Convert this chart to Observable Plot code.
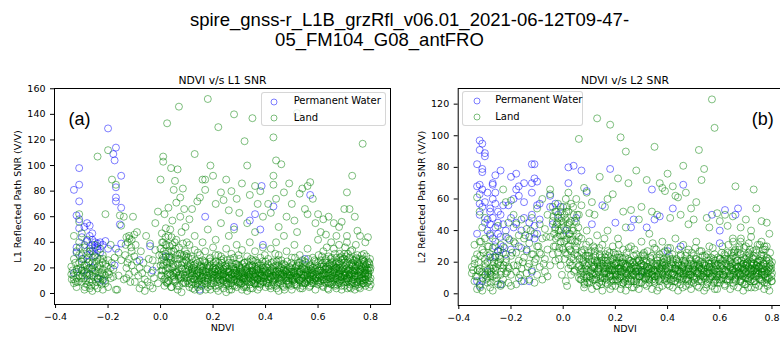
<!DOCTYPE html>
<html>
<head>
<meta charset="utf-8">
<script src="https://cdn.jsdelivr.net/npm/d3@7"></script>
<script src="https://cdn.jsdelivr.net/npm/@observablehq/plot@0.6"></script>
<style>
  body { margin: 0; background: white; }
  #fig { position: relative; width: 780px; height: 337px; overflow: hidden; background: white; font-family: "DejaVu Sans", sans-serif; }
  .title { position: absolute; font-family: "Liberation Sans", Arial, sans-serif; font-size: 18.5px; line-height: 22px; text-align: center; color: black; white-space: nowrap; z-index: 5; }
  .panel { position: absolute; top: 0; }
  .legend { position: absolute; box-sizing: border-box; border: 1px solid rgba(204,204,204,0.8); border-radius: 3px; background: rgba(255,255,255,0.8); z-index: 4; font-size: 10px; }
  .legend .row { position: absolute; white-space: nowrap; }
</style>
</head>
<body>
<div id="fig"></div>
<script>
// ---------- data (NDVI, SNR) ----------
const ndviTicks = [-0.4, -0.2, 0.0, 0.2, 0.4, 0.6, 0.8];
const l1Ticks = [0, 20, 40, 60, 80, 100, 120, 140, 160];
const l2Ticks = [0, 20, 40, 60, 80, 100, 120];
const seriesNames = ["Permanent Water", "Land"];
const titleLines = ["spire_gnss-r_L1B_grzRfl_v06.01_2021-06-12T09-47-", "05_FM104_G08_antFRO"];

const waterL1 = [[-0.33,81],[-0.31,98],[-0.31,85],[-0.31,72],[-0.32,61],[-0.31,58],[-0.31,51],[-0.32,36],[-0.33,16],[-0.32,32],[-0.30,44],[-0.30,27],[-0.29,52],[-0.29,38],[-0.28,55],[-0.28,41],[-0.28,30],[-0.27,53],[-0.27,45],[-0.27,35],[-0.27,25],[-0.26,47],[-0.26,38],[-0.26,33],[-0.26,42],[-0.25,36],[-0.25,40],[-0.25,30],[-0.24,39],[-0.24,34],[-0.24,37],[-0.23,40],[-0.23,32],[-0.22,38],[-0.21,41],[-0.20,35],[-0.28,14],[-0.26,20],[-0.24,12],[-0.30,18],[-0.22,10],[-0.20,129],[-0.18,109],[-0.175,104],[-0.17,114],[-0.17,83],[-0.17,75],[-0.17,72],[-0.15,92],[-0.15,67],[-0.155,54],[-0.15,39],[-0.17,35],[-0.175,22],[-0.04,37],[-0.03,18],[0.15,3],[0.17,60],[0.28,52],[0.34,57],[0.36,62],[0.38,50],[0.385,84],[0.43,68],[0.39,38],[0.57,77],[0.55,27],[-0.08,26],[0.02,29]];

const landL1 = [
[-0.34,21],[-0.34,15],[-0.33,8],[-0.33,27],[-0.33,45],[-0.32,12],[-0.32,19],[-0.32,33],[-0.32,5],[-0.31,24],[-0.31,40],[-0.31,56],[-0.31,62],[-0.31,14],[-0.30,9],[-0.30,30],[-0.30,18],[-0.30,47],[-0.29,3],[-0.29,22],[-0.29,12],[-0.29,36],[-0.28,7],[-0.28,16],[-0.28,27],[-0.28,42],[-0.27,4],[-0.27,11],[-0.27,20],[-0.27,31],[-0.26,2],[-0.26,14],[-0.26,24],[-0.26,9],[-0.25,18],[-0.25,6],[-0.25,29],[-0.25,38],[-0.24,12],[-0.24,21],[-0.24,4],[-0.24,107],[-0.23,16],[-0.23,27],[-0.23,9],[-0.23,35],[-0.22,19],[-0.22,11],[-0.22,3],[-0.22,30],[-0.21,62],[-0.21,14],[-0.21,23],[-0.21,8],[-0.20,112],[-0.20,17],[-0.20,5],[-0.20,26],[-0.19,12],[-0.19,20],[-0.19,38],[-0.33,11],[-0.30,25],[-0.28,33],[-0.26,17],[-0.24,28],[-0.22,24],[-0.27,15],[-0.29,18],[-0.31,30],
[-0.185,89],[-0.18,13],[-0.18,19],[-0.175,28],[-0.17,3],[-0.17,85],[-0.165,3],[-0.16,32],[-0.16,14],[-0.155,61],[-0.15,53],[-0.15,26],[-0.14,60],[-0.14,11],[-0.135,30],[-0.13,44],[-0.13,20],[-0.13,12],[-0.125,40],[-0.12,45],[-0.12,27],[-0.12,15],[-0.115,9],[-0.11,42],[-0.11,33],[-0.11,22],[-0.105,60],[-0.10,46],[-0.10,29],[-0.10,17],[-0.095,38],[-0.09,25],[-0.09,48],[-0.085,14],[-0.08,4],[-0.08,20],[-0.075,33],[-0.07,16],[-0.07,7],[-0.065,24],[-0.06,11],[-0.06,2],[-0.055,45],[-0.05,19],[-0.05,9],[-0.045,27],[-0.04,6],[-0.04,39],[-0.035,16],[-0.03,4],[-0.03,26],[-0.025,12],[-0.02,55],[-0.02,34],[-0.015,21],[-0.01,8],[-0.01,64],[-0.005,30],
[0.00,89],[0.00,22],[0.00,35],[0.005,14],[0.01,28],[0.01,107],[0.01,103],[0.01,40],[0.015,6],[0.02,18],[0.02,51],[0.02,31],[0.025,133],[0.025,24],[0.03,10],[0.03,45],[0.03,67],[0.035,19],[0.035,37],[0.04,26],[0.04,98],[0.04,5],[0.045,14],[0.045,57],[0.05,33],[0.05,81],[0.05,21],[0.055,88],[0.055,9],[0.06,42],[0.06,16],[0.06,71],[0.065,27],[0.065,97],[0.07,146],[0.07,12],[0.07,36],[0.075,60],[0.075,75],[0.08,22],[0.08,1],[0.08,48],[0.085,15],[0.085,82],[0.09,30],[0.09,66],[0.095,8],[0.095,19],[0.10,40],[0.10,25],[0.005,47],[0.015,62],[0.025,8],[0.035,29],[0.045,38],[0.055,17],[0.065,3],[0.075,31],[0.085,39],[0.095,52],
[0.13,109],[0.18,152],[0.19,100],[0.20,92],[0.17,89],[0.16,89],[0.22,130],[0.25,89],[0.28,140],[0.31,86],[0.32,119],[0.33,100],[0.35,137],[0.34,77],[0.38,80],[0.36,84],[0.29,74],[0.27,80],[0.23,79],[0.15,75],[0.12,66],[0.14,72],[0.21,70],[0.26,65],[0.30,63],[0.37,70],[0.39,60],[0.11,58],[0.17,81],[0.24,73],[0.33,55],[0.36,48],
[0.10,12],[0.10,31],[0.11,5],[0.11,21],[0.11,38],[0.12,14],[0.12,27],[0.12,9],[0.13,18],[0.13,34],[0.13,3],[0.13,45],[0.14,11],[0.14,24],[0.14,16],[0.15,7],[0.15,30],[0.15,2],[0.15,19],[0.16,13],[0.16,26],[0.16,40],[0.17,8],[0.17,17],[0.17,33],[0.18,5],[0.18,22],[0.18,12],[0.18,50],[0.19,15],[0.19,28],[0.19,3],[0.20,10],[0.20,20],[0.20,36],[0.21,6],[0.21,14],[0.21,25],[0.21,42],[0.22,11],[0.22,18],[0.22,2],[0.22,30],[0.23,8],[0.23,16],[0.23,22],[0.23,55],[0.24,4],[0.24,13],[0.24,27],[0.24,19],[0.25,9],[0.25,17],[0.25,35],[0.25,1],[0.26,12],[0.26,24],[0.26,6],[0.26,45],[0.27,15],[0.27,21],[0.27,3],[0.27,31],[0.28,10],[0.28,18],[0.28,28],[0.28,50],[0.29,5],[0.29,14],[0.29,23],[0.29,38],[0.30,8],[0.30,17],[0.30,11],[0.30,27],[0.31,3],[0.31,20],[0.31,13],[0.31,34],[0.32,9],[0.32,16],[0.32,24],[0.32,6],[0.33,12],[0.33,19],[0.33,29],[0.33,2],[0.34,7],[0.34,15],[0.34,22],[0.34,40],[0.35,10],[0.35,18],[0.35,26],[0.35,4],[0.36,13],[0.36,21],[0.36,8],[0.36,33],[0.37,16],[0.37,24],[0.37,3],[0.37,11],[0.38,19],[0.38,7],[0.38,28],[0.38,14],[0.39,9],[0.39,22],[0.39,17],[0.39,36],[0.40,12],[0.40,25],[0.40,5],[0.40,18],
[0.12,20],[0.14,8],[0.16,18],[0.19,22],[0.20,14],[0.22,24],[0.24,10],[0.26,17],[0.28,13],[0.30,21],[0.32,12],[0.34,17],[0.36,16],[0.38,10],[0.15,25],[0.17,12],[0.21,19],[0.23,29],[0.25,13],[0.27,9],[0.29,18],[0.31,8],[0.33,15],[0.35,22],[0.37,20],[0.39,13],
[0.43,122],[0.44,104],[0.46,101],[0.43,92],[0.43,85],[0.49,86],[0.52,141],[0.53,78],[0.54,82],[0.56,84],[0.57,87],[0.58,74],[0.44,74],[0.47,79],[0.41,70],[0.50,70],[0.55,66],[0.60,62],[0.42,63],[0.48,60],[0.51,57],[0.45,52],[0.59,55],[0.52,48],[0.56,62],
[0.41,8],[0.41,16],[0.41,27],[0.42,12],[0.42,20],[0.42,4],[0.42,35],[0.43,10],[0.43,18],[0.43,25],[0.44,6],[0.44,14],[0.44,22],[0.44,40],[0.45,9],[0.45,17],[0.45,30],[0.45,2],[0.46,12],[0.46,20],[0.46,26],[0.47,5],[0.47,15],[0.47,23],[0.47,45],[0.48,10],[0.48,18],[0.48,33],[0.49,7],[0.49,14],[0.49,21],[0.50,3],[0.50,12],[0.50,19],[0.50,28],[0.51,9],[0.51,16],[0.51,38],[0.52,6],[0.52,13],[0.52,22],[0.53,10],[0.53,17],[0.53,30],[0.54,4],[0.54,12],[0.54,20],[0.55,8],[0.55,15],[0.55,25],[0.56,11],[0.56,18],[0.56,35],[0.57,6],[0.57,14],[0.57,22],[0.58,9],[0.58,16],[0.58,28],[0.59,3],[0.59,12],[0.59,19],[0.60,7],[0.60,15],[0.60,24],[0.60,42],[0.46,15],[0.48,13],[0.52,17],[0.54,26],[0.56,14],[0.58,20],[0.43,14],[0.45,22],[0.49,17],[0.51,11],[0.53,24],[0.55,19],[0.57,10],[0.59,25],
[0.77,117],[0.73,92],[0.71,79],[0.72,66],[0.70,66],[0.74,60],[0.62,58],[0.64,60],[0.66,55],[0.68,52],[0.75,49],[0.76,45],[0.79,44],[0.61,48],[0.63,46],[0.67,45],[0.69,56],[0.78,40],[0.65,40],[0.71,45],
[0.61,10],[0.61,18],[0.61,26],[0.62,5],[0.62,13],[0.62,21],[0.62,33],[0.63,8],[0.63,16],[0.63,24],[0.64,11],[0.64,19],[0.64,3],[0.64,29],[0.65,7],[0.65,14],[0.65,22],[0.66,10],[0.66,17],[0.66,25],[0.66,35],[0.67,4],[0.67,12],[0.67,20],[0.67,28],[0.68,8],[0.68,15],[0.68,23],[0.68,38],[0.69,11],[0.69,18],[0.69,26],[0.69,3],[0.70,6],[0.70,14],[0.70,21],[0.70,31],[0.71,9],[0.71,16],[0.71,24],[0.71,40],[0.72,5],[0.72,12],[0.72,19],[0.72,28],[0.73,8],[0.73,15],[0.73,22],[0.73,34],[0.74,3],[0.74,11],[0.74,18],[0.74,26],[0.75,7],[0.75,14],[0.75,21],[0.75,30],[0.76,10],[0.76,17],[0.76,24],[0.76,4],[0.77,8],[0.77,13],[0.77,20],[0.77,27],[0.78,6],[0.78,15],[0.78,22],[0.78,11],[0.79,9],[0.79,18],[0.79,25],[0.79,14],[0.80,12],[0.80,20],[0.80,7],[0.68,20],[0.70,17],[0.72,15],[0.74,14],[0.76,19],[0.66,21],[0.64,15],[0.78,18],[0.69,13],[0.73,18],[0.75,25],[0.71,12],[0.67,16],[0.63,20],
[.005,26],[.012,33],[.018,12],[.023,38],[.028,20],[.033,28],[.038,15],[.042,44],[.047,23],[.052,11],[.057,35],[.062,6],[.067,19],[.072,27],[.077,13],[.083,24],[.088,9],[.093,33],[.098,17],[.103,22],[.107,8],[.112,16],[.117,29],[.122,4],[.127,11],[.132,23],[.137,15],[.142,32],[.147,10],[.152,21],[.157,6],[.162,15],[.167,25],[.172,3],[.177,14],[.182,19],[.187,27],[.192,8],[.197,12],[.202,24],[.207,17],[.212,4],[.217,13],[.222,21],[.227,10],[.232,26],[.237,15],[.242,7],[.247,22],[.252,12],[.257,19],[.262,3],[.267,11],[.272,24],[.277,16],[.282,6],[.287,20],[.292,12],[.297,30],[.302,9],[.307,15],[.312,23],[.317,5],[.322,18],[.327,10],[.332,25],[.337,13],[.342,4],[.347,20],[.352,14],[.357,8],[.362,26],[.367,12],[.372,18],[.377,5],[.382,22],[.387,15],[.392,9],[.397,30],[.402,14],[.407,20],[.412,6],[.417,13],[.422,24],[.427,9],[.432,17],[.437,31],[.442,4],[.447,12],[.452,19],[.457,8],[.462,23],[.467,14],[.472,3],[.477,17],[.482,25],[.487,10],[.492,15],[.497,6],[.502,22],[.507,13],[.512,28],[.517,7],[.522,18],[.527,11],[.532,4],[.537,15],[.542,23],[.547,9],[.552,17],[.557,12],[.562,27],[.567,5],[.572,19],[.577,13],[.582,8],[.587,22],[.592,15],[.597,10],[.602,30],[.607,13],[.612,21],[.617,6],[.622,16],[.627,26],[.632,11],[.637,4],[.642,19],[.647,12],[.652,28],[.657,9],[.662,16],[.667,23],[.672,7],[.677,14],[.682,31],[.687,18],[.692,9],[.697,24],[.702,12],[.707,19],[.712,4],[.717,15],[.722,27],[.727,10],[.732,21],[.737,13],[.742,6],[.747,18],[.752,24],[.757,11],[.762,15],[.767,30],[.772,8],[.777,19],[.782,13],[.787,23],[.792,16],[.797,10],
[.008,18],[.021,9],[.036,24],[.049,16],[.064,30],[.079,20],[.091,12],[.106,28],[.119,19],[.134,7],[.149,14],[.164,21],[.179,9],[.194,17],[.209,30],[.224,14],[.239,19],[.254,26],[.269,8],[.284,15],[.299,22],[.314,11],[.329,17],[.344,27],[.359,10],[.374,14],[.389,25],[.404,8],[.419,17],[.434,11],[.449,26],[.464,16],[.479,7],[.494,20],[.509,16],[.524,24],[.539,8],[.554,21],[.569,15],[.584,11],[.599,18],[.614,14],[.629,19],[.644,8],[.659,22],[.674,19],[.689,6],[.704,16],[.719,22],[.734,17],[.749,9],[.764,21],[.779,11],[.794,20],[.656,13],[.686,22],[.716,10],[.746,28],[.776,25],[.664,31],[.694,27],[.724,33],[.754,14],[.784,29],[.633,36],[.703,36],[.744,38],[.683,10],[.713,25],[.743,22],[.773,16],[.618,24],[.648,27],[.678,9],[.708,29],[.738,8],[.768,12],[.798,27],
[-.335,18],[-.325,24],[-.315,9],[-.305,20],[-.295,27],[-.285,10],[-.275,24],[-.265,6],[-.255,13],[-.245,25],[-.235,19],[-.225,7],[-.215,15],[-.205,21],[-.318,17],[-.298,14],[-.278,19],[-.258,28],[-.238,11],[-.218,27],[-.288,5],[-.268,33],[-.248,16],[-.228,13],[-.338,11],[-.308,36],[-.196,15],[-.186,24],[-.112,36],[-.126,24],[-.098,9],[-.118,43],[-.133,38],
[.104,15],[.109,19],[.114,11],[.121,17],[.126,22],[.131,13],[.139,18],[.144,9],[.151,16],[.156,12],[.161,20],[.168,10],[.174,17],[.181,14],[.186,21],[.191,6],[.199,16],[.204,12],[.211,19],[.216,9],[.221,15],[.229,18],[.234,11],[.241,15],[.246,20],[.251,7],[.259,14],[.264,18],[.271,12],[.276,21],[.281,16],[.289,9],[.294,15],[.301,13],[.306,19],[.311,17],[.319,12],[.324,21],[.331,9],[.336,16],[.341,12],[.349,18],[.354,11],[.361,15],[.366,19],[.371,8],[.379,16],[.384,12],[.391,19],[.396,14],[.401,21],[.409,11],[.414,16],[.421,13],[.426,19],[.431,7],[.439,15],[.444,18],[.451,12],[.456,16],[.461,10],[.469,19],[.474,13],[.481,16],[.486,8],[.491,12],[.499,17],[.504,10],[.511,14],[.516,21],[.521,12],[.529,16],[.534,19],[.541,10],[.546,14],[.551,8],[.559,15],[.564,18],[.571,11],[.576,16],[.581,20],[.589,12],[.594,17],[.601,9],[.606,14],[.611,18],[.619,11],[.624,15],[.631,21],[.636,13],[.641,17],[.649,9],[.654,15],[.661,19],[.666,12],[.671,24],[.679,17],[.684,13],[.691,20],[.696,15],[.701,27],[.709,11],[.714,18],[.721,14],[.726,23],[.731,9],[.739,16],[.744,20],[.751,13],[.756,27],[.761,18],[.769,10],[.774,23],[.781,16],[.786,19],[.791,13],[.796,23],[.705,9],[.735,26],[.765,7],[.795,5],[.665,6],[.625,9],[.685,28],[.725,4],[.755,5],[.775,31],[.645,23],[.615,29],
[-.332,14],[-.322,9],[-.312,19],[-.302,12],[-.292,16],[-.282,22],[-.272,9],[-.262,19],[-.252,22],[-.242,9],[-.232,22],[-.222,16],[-.212,10],
[.003,18],[.013,24],[.027,15],[.041,33],[.054,27],[.068,14],[.081,30],[.096,26],[.006,40],[.019,44],[.037,50],
[.002,14],[.006,30],[.010,22],[.014,11],[.018,38],[.022,25],[.026,9],[.030,33],[.034,16],[.038,27],[.042,5],[.046,20],[.050,13],[.054,40],[.058,10],[.062,17],[.066,23],[.070,6],[.074,15],[.078,12],[.082,19],[.086,8],[.090,24],[.094,14],[.098,29],
[.102,10],[.106,18],[.110,13],[.114,23],[.118,7],[.122,16],[.126,20],[.130,11],[.134,26],[.138,14],[.142,5],[.146,17],[.150,12],[.154,22],[.158,9],[.162,18],[.166,14],[.170,24],[.174,7],[.178,20],[.182,11],[.186,16],[.190,25],[.194,13],[.198,19],
[.202,8],[.206,15],[.210,22],[.214,12],[.218,17],[.222,6],[.226,20],[.230,14],[.234,24],[.238,10],[.242,16],[.246,13],[.250,21],[.254,8],[.258,17],[.262,12],[.266,27],[.270,15],[.274,6],[.278,19],[.282,11],[.286,23],[.290,16],[.294,9],[.298,14],
[.302,20],[.306,7],[.310,16],[.314,12],[.318,24],[.322,14],[.326,5],[.330,18],[.334,11],[.338,21],[.342,15],[.346,9],[.350,17],[.354,25],[.358,13],[.362,7],[.366,19],[.370,11],[.374,22],[.378,16],[.382,8],[.386,14],[.390,20],[.394,12],[.398,17],
[.402,9],[.406,15],[.410,23],[.414,11],[.418,18],[.422,6],[.426,14],[.430,21],[.434,12],[.438,17],[.442,25],[.446,8],[.450,15],[.454,11],[.458,20],[.462,13],[.466,6],[.470,18],[.474,22],[.478,12],[.482,15],[.486,19],[.490,9],[.494,14],[.498,24],
[.502,11],[.506,17],[.510,7],[.514,20],[.518,13],[.522,15],[.526,22],[.530,10],[.534,17],[.538,12],[.542,6],[.546,19],[.550,14],[.554,24],[.558,9],[.562,16],[.566,12],[.570,21],[.574,8],[.578,18],[.582,14],[.586,26],[.590,10],[.594,13],[.598,20],
[.602,12],[.606,18],[.610,8],[.614,23],[.618,15],[.622,11],[.626,19],[.630,27],[.634,14],[.638,9],[.642,21],[.646,16],[.650,12],[.654,24],[.658,18],[.662,7],[.666,14],[.670,20],[.674,11],[.678,25],[.682,16],[.686,13],[.690,29],[.694,19],[.698,9],
[.702,15],[.706,22],[.710,12],[.714,31],[.718,18],[.722,7],[.726,16],[.730,24],[.734,11],[.738,20],[.742,14],[.746,27],[.750,9],[.754,17],[.758,22],[.762,12],[.766,19],[.770,26],[.774,10],[.778,16],[.782,21],[.786,8],[.790,15],[.794,24],[.798,18]
];

const waterL2 = [[-0.32,97],[-0.31,95],[-0.32,91],[-0.30,89],[-0.30,87],[-0.33,82],[-0.31,79],[-0.31,77],[-0.32,69],[-0.33,68],[-0.31,66],[-0.32,63],[-0.32,57],[-0.31,55],[-0.33,38],[-0.32,50],[-0.30,45],[-0.30,58],[-0.29,64],[-0.29,47],[-0.29,40],[-0.28,54],[-0.28,52],[-0.28,44],[-0.28,38],[-0.27,70],[-0.27,69],[-0.27,60],[-0.27,48],[-0.27,35],[-0.26,75],[-0.26,64],[-0.26,57],[-0.26,42],[-0.26,30],[-0.25,52],[-0.25,45],[-0.25,38],[-0.25,27],[-0.24,78],[-0.24,50],[-0.24,36],[-0.24,28],[-0.23,56],[-0.23,44],[-0.23,30],[-0.22,40],[-0.22,25],[-0.21,56],[-0.21,35],[-0.20,74],[-0.20,48],[-0.19,60],[-0.19,42],[-0.18,76],[-0.18,66],[-0.18,45],[-0.17,68],[-0.17,62],[-0.17,30],[-0.16,40],[-0.15,70],[-0.15,58],[-0.15,48],[-0.14,28],[-0.13,45],[-0.13,36],[-0.12,82],[-0.12,70],[-0.12,64],[-0.12,50],[-0.11,82],[-0.11,73],[-0.11,43],[-0.11,35],[-0.10,71],[-0.10,56],[-0.10,38],[-0.09,57],[-0.09,47],[-0.12,14],[-0.13,8],[-0.16,8],[-0.20,28],[-0.31,8],[-0.33,8],[-0.32,5],[-0.29,14],[-0.28,23],[-0.26,24],[-0.24,6],[-0.05,62],[-0.05,55],[-0.04,44],[-0.03,57],[-0.02,50],[-0.01,55],[0.02,80],[0.04,81],[0.07,78],[0.09,65],[0.02,70],[0.01,40],[0.05,48],[0.11,44],[0.18,79],[0.20,45],[0.26,42],[0.27,47],[0.32,42],[0.34,66],[0.35,47],[0.37,49],[0.42,54],[0.46,69],[0.57,50],[0.60,40],[0.60,32],[0.62,53],[0.67,54],[0.66,50],[0.40,27],[0.15,56],[0.45,30],[0.30,14]];

const landL2 = [
[-0.35,17],[-0.35,13],[-0.34,19],[-0.34,8],[-0.34,31],[-0.33,61],[-0.33,25],[-0.33,11],[-0.33,3],[-0.32,52],[-0.32,33],[-0.32,16],[-0.32,6],[-0.31,28],[-0.31,14],[-0.31,42],[-0.31,2],[-0.30,35],[-0.30,12],[-0.30,22],[-0.30,48],[-0.29,15],[-0.29,7],[-0.29,30],[-0.29,20],[-0.28,13],[-0.28,25],[-0.28,4],[-0.28,37],[-0.27,11],[-0.27,18],[-0.27,29],[-0.27,2],[-0.26,15],[-0.26,8],[-0.26,33],[-0.26,23],[-0.25,6],[-0.25,19],[-0.25,27],[-0.25,43],[-0.24,12],[-0.24,5],[-0.24,22],[-0.24,31],[-0.23,66],[-0.23,16],[-0.23,9],[-0.23,26],[-0.22,58],[-0.22,13],[-0.22,20],[-0.22,36],[-0.21,7],[-0.21,17],[-0.21,45],[-0.20,59],[-0.20,12],[-0.20,24],[-0.20,5],[-0.32,14],[-0.30,17],[-0.28,16],[-0.26,12],[-0.24,18],[-0.29,10],[-0.27,23],
[-0.19,18],[-0.19,33],[-0.19,50],[-0.18,6],[-0.18,26],[-0.18,14],[-0.18,44],[-0.17,21],[-0.17,37],[-0.17,10],[-0.16,29],[-0.16,16],[-0.16,47],[-0.15,8],[-0.15,23],[-0.15,35],[-0.14,13],[-0.14,27],[-0.14,41],[-0.13,9],[-0.13,19],[-0.13,32],[-0.12,15],[-0.12,25],[-0.12,48],[-0.11,7],[-0.11,38],[-0.11,20],[-0.10,12],[-0.10,30],[-0.10,54],[-0.09,17],[-0.09,44],[-0.09,26],[-0.08,9],[-0.08,35],[-0.08,60],[-0.07,22],[-0.07,14],[-0.07,41],[-0.06,28],[-0.06,11],[-0.06,50],[-0.05,36],[-0.05,18],[-0.05,66],[-0.05,63],[-0.04,46],[-0.04,25],[-0.04,55],
[-0.03,30],[-0.03,42],[-0.03,52],[-0.03,21],[-0.02,36],[-0.02,48],[-0.02,57],[-0.02,26],[-0.01,40],[-0.01,33],[-0.01,52],[-0.01,18],[0.00,45],[0.00,28],[0.00,55],[0.00,37],[0.005,22],[0.01,60],[0.01,47],[0.01,34],[0.01,8],[0.015,25],[0.015,41],[0.02,52],[0.02,30],[0.02,16],[0.02,64],[0.025,38],[0.025,20],[0.03,46],[0.03,27],[0.03,57],[0.03,12],[0.035,34],[0.04,22],[0.04,50],[0.04,40],[0.045,15],[0.05,30],[0.05,45],[0.05,60],[0.055,24],[0.06,36],[0.06,10],[0.06,98],[0.06,50],[-0.025,44],[-0.015,29],[0.005,50],[0.035,18],[-0.035,38],[0.045,33],[0.015,5],[-0.005,12],
[0.13,111],[0.18,107],[0.22,99],[0.24,90],[0.14,74],[0.21,73],[0.25,70],[0.28,78],[0.32,72],[0.35,93],[0.37,70],[0.38,67],[0.40,76],[0.08,67],[0.09,64],[0.17,60],[0.19,63],[0.26,53],[0.30,55],[0.34,52],[0.11,58],[0.39,65],[0.16,55],[0.23,52],[0.12,50],[0.29,47],[0.36,50],[0.07,56],[0.10,51],
[0.07,9],[0.07,22],[0.07,35],[0.08,14],[0.08,28],[0.08,4],[0.09,18],[0.09,40],[0.09,10],[0.10,24],[0.10,7],[0.10,33],[0.11,13],[0.11,20],[0.11,3],[0.12,16],[0.12,29],[0.12,9],[0.13,21],[0.13,5],[0.13,37],[0.14,12],[0.14,25],[0.14,17],[0.15,8],[0.15,19],[0.15,31],[0.15,2],[0.16,14],[0.16,23],[0.16,10],[0.17,6],[0.17,18],[0.17,27],[0.17,40],[0.18,12],[0.18,21],[0.18,3],[0.19,15],[0.19,9],[0.19,30],[0.20,5],[0.20,18],[0.20,25],[0.20,12],[0.21,8],[0.21,20],[0.21,35],[0.21,14],[0.22,3],[0.22,11],[0.22,23],[0.22,17],[0.23,7],[0.23,15],[0.23,28],[0.24,10],[0.24,19],[0.24,2],[0.24,42],[0.25,13],[0.25,22],[0.25,6],[0.26,16],[0.26,9],[0.26,30],[0.27,4],[0.27,12],[0.27,20],[0.28,8],[0.28,17],[0.28,25],[0.29,11],[0.29,3],[0.29,21],[0.30,14],[0.30,7],[0.30,33],[0.31,10],[0.31,18],[0.31,26],[0.32,5],[0.32,13],[0.32,21],[0.33,9],[0.33,16],[0.33,38],[0.34,3],[0.34,12],[0.34,24],[0.35,7],[0.35,15],[0.35,29],[0.36,11],[0.36,19],[0.36,2],[0.37,8],[0.37,16],[0.37,23],[0.38,13],[0.38,5],[0.38,33],[0.39,10],[0.39,18],[0.39,27],[0.40,6],[0.40,14],[0.40,21],[0.12,13],[0.14,20],[0.16,16],[0.18,15],[0.20,9],[0.22,14],[0.24,13],[0.26,12],[0.28,14],[0.30,19],[0.32,11],[0.34,17],[0.36,14],[0.38,18],[0.40,10],[0.19,20],[0.23,19],[0.27,15],[0.31,14],[0.35,11],
[0.42,68],[0.43,62],[0.44,61],[0.46,81],[0.47,64],[0.49,54],[0.51,58],[0.52,91],[0.53,72],[0.54,79],[0.57,123],[0.58,105],[0.59,51],[0.55,48],[0.45,50],[0.41,48],[0.50,47],[0.48,44],[0.56,42],[0.60,46],
[0.41,9],[0.41,17],[0.41,29],[0.42,4],[0.42,13],[0.42,22],[0.43,8],[0.43,16],[0.43,35],[0.44,11],[0.44,20],[0.44,2],[0.45,6],[0.45,14],[0.45,25],[0.46,10],[0.46,18],[0.46,31],[0.47,5],[0.47,13],[0.47,21],[0.48,9],[0.48,16],[0.48,28],[0.49,3],[0.49,12],[0.49,19],[0.50,7],[0.50,15],[0.50,24],[0.51,10],[0.51,18],[0.51,33],[0.52,4],[0.52,13],[0.52,21],[0.53,8],[0.53,16],[0.53,27],[0.54,11],[0.54,19],[0.54,2],[0.55,6],[0.55,14],[0.55,23],[0.56,9],[0.56,17],[0.56,30],[0.57,5],[0.57,12],[0.57,20],[0.58,8],[0.58,15],[0.58,25],[0.59,3],[0.59,11],[0.59,18],[0.60,7],[0.60,14],[0.60,22],[0.44,15],[0.46,13],[0.48,12],[0.50,19],[0.52,16],[0.54,14],[0.56,13],[0.58,19],
[0.66,68],[0.73,66],[0.74,54],[0.62,50],[0.65,49],[0.70,47],[0.76,46],[0.78,45],[0.68,42],[0.72,40],[0.63,43],[0.79,38],
[0.61,10],[0.61,18],[0.61,30],[0.62,5],[0.62,14],[0.62,22],[0.63,9],[0.63,17],[0.63,26],[0.64,3],[0.64,12],[0.64,20],[0.65,7],[0.65,15],[0.65,24],[0.65,35],[0.66,10],[0.66,18],[0.66,28],[0.67,4],[0.67,13],[0.67,21],[0.68,8],[0.68,16],[0.68,25],[0.68,33],[0.69,11],[0.69,19],[0.69,2],[0.70,6],[0.70,14],[0.70,22],[0.70,30],[0.71,9],[0.71,17],[0.71,26],[0.72,4],[0.72,12],[0.72,20],[0.72,36],[0.73,8],[0.73,15],[0.73,24],[0.74,11],[0.74,18],[0.74,28],[0.75,5],[0.75,13],[0.75,21],[0.76,9],[0.76,16],[0.76,25],[0.76,33],[0.77,3],[0.77,12],[0.77,19],[0.78,7],[0.78,15],[0.78,23],[0.78,30],[0.79,10],[0.79,17],[0.79,2],[0.80,13],[0.80,20],[0.80,8],[0.64,17],[0.66,14],[0.68,12],[0.70,18],[0.72,16],[0.74,14],[0.76,12],[0.67,17],[0.71,13],[0.75,17],[0.69,15],[0.73,19],[0.77,15],
[.065,15],[.072,26],[.078,11],[.083,19],[.088,31],[.093,7],[.098,22],[.103,14],[.108,27],[.113,9],[.118,18],[.123,24],[.128,5],[.133,15],[.138,29],[.143,10],[.148,21],[.153,13],[.158,35],[.163,7],[.168,16],[.173,24],[.178,11],[.183,18],[.188,5],[.193,26],[.198,14],[.203,20],[.208,9],[.213,31],[.218,16],[.223,6],[.228,22],[.233,12],[.238,18],[.243,26],[.248,8],[.253,15],[.258,21],[.263,4],[.268,17],[.273,28],[.278,11],[.283,20],[.288,14],[.293,7],[.298,24],[.303,12],[.308,18],[.313,6],[.318,15],[.323,27],[.328,10],[.333,20],[.338,14],[.343,32],[.348,8],[.353,18],[.358,23],[.363,12],[.368,4],[.373,19],[.378,14],[.383,26],[.388,9],[.393,16],[.398,22],[.403,12],[.408,5],[.413,19],[.418,25],[.423,10],[.428,16],[.433,21],[.438,7],[.443,28],[.448,13],[.453,18],[.458,4],[.463,15],[.468,24],[.473,10],[.478,19],[.483,6],[.488,14],[.493,26],[.498,11],[.503,17],[.508,22],[.513,5],[.518,14],[.523,27],[.528,9],[.533,19],[.538,13],[.543,24],[.548,4],[.553,16],[.558,21],[.563,10],[.568,15],[.573,29],[.578,7],[.583,18],[.588,12],[.593,23],[.598,9],[.603,17],[.608,26],[.613,12],[.618,6],[.623,19],[.628,14],[.633,31],[.638,9],[.643,22],[.648,15],[.653,5],[.658,20],[.663,12],[.668,26],[.673,17],[.678,8],[.683,21],[.688,13],[.693,29],[.698,10],[.703,18],[.708,4],[.713,23],[.718,14],[.723,9],[.728,27],[.733,16],[.738,6],[.743,20],[.748,12],[.753,31],[.758,18],[.763,8],[.768,24],[.773,14],[.778,21],[.783,5],[.788,16],[.793,26],[.798,11],
[.071,16],[.086,24],[.101,11],[.116,30],[.131,19],[.146,6],[.161,25],[.176,16],[.191,12],[.206,23],[.221,19],[.236,8],[.251,29],[.266,20],[.281,6],[.296,17],[.311,24],[.326,15],[.341,9],[.356,28],[.371,16],[.386,20],[.401,29],[.416,12],[.431,18],[.446,9],[.461,21],[.476,14],[.491,8],[.506,29],[.521,18],[.536,11],[.551,25],[.566,19],[.581,3],[.596,14],[.611,21],[.626,9],[.641,17],[.656,27],[.671,11],[.686,17],[.701,24],[.716,8],[.731,19],[.746,15],[.761,22],[.776,10],[.791,19],[.651,33],[.681,35],[.711,32],[.741,26],[.771,30],[.631,22],[.691,19],[.721,19],[.761,14],[.797,16],[.661,8],[.706,12],[.736,11],[.766,28],
[-.345,15],[-.335,11],[-.325,20],[-.315,33],[-.305,26],[-.295,9],[-.285,30],[-.275,14],[-.265,20],[-.255,10],[-.245,24],[-.235,6],[-.225,29],[-.215,14],[-.205,34],[-.318,4],[-.298,12],[-.278,7],[-.258,17],[-.238,14],[-.218,22],[-.018,40],[-.008,46],[.008,26],[.018,44],[.028,34],[.038,55],[.048,28],[.058,42],[-.028,35],[-.038,49],[.012,52],[.032,23],[.042,14],[.052,38],[.062,22],[-.155,20],[-.135,17],[-.115,25],[-.095,30],[-.075,19],[-.065,36],[-.185,32],[-.165,12],[-.145,37],[-.125,40],[-.105,22],[-.085,25],
[.069,12],[.076,20],[.081,7],[.091,15],[.096,26],[.106,10],[.111,17],[.121,21],[.126,12],[.136,16],[.141,24],[.151,10],[.156,18],[.166,13],[.171,21],[.181,8],[.186,15],[.196,19],[.201,11],[.211,16],[.216,23],[.226,14],[.231,9],[.241,17],[.246,12],[.256,19],[.261,14],[.271,8],[.276,16],[.286,22],[.291,11],[.301,15],[.306,21],[.316,10],[.321,17],[.331,13],[.336,22],[.346,15],[.351,11],[.361,18],[.366,9],[.376,15],[.381,20],[.391,12],[.396,8],[.406,16],[.411,22],[.421,13],[.426,8],[.436,15],[.441,19],[.451,11],[.456,16],[.466,20],[.471,9],[.481,14],[.486,22],[.496,16],[.501,9],[.511,13],[.516,19],[.526,11],[.531,15],[.541,18],[.546,9],[.556,13],[.561,17],[.571,11],[.576,22],[.586,14],[.591,7],[.601,12],[.606,19],[.616,15],[.621,24],[.636,11],[.646,19],[.651,12],[.661,16],[.666,21],[.676,13],[.681,9],[.691,23],[.696,16],[.706,20],[.711,10],[.721,15],[.726,22],[.736,13],[.741,18],[.751,10],[.756,21],[.766,16],[.771,7],[.781,13],[.786,22],[.796,18],[.675,30],[.715,28],[.745,31],[.785,10],[.655,26],[.695,6],[.735,4],
[-.338,22],[-.328,15],[-.318,24],[-.308,10],[-.298,19],[-.288,24],[-.278,12],[-.268,16],[-.248,20],[-.228,18],[-.208,16],[-.195,26],[-.175,18],
[-.012,37],[.002,42],[.022,38],[.044,46],[.055,33],[-.022,45],[.026,28],[.016,35],
[.062,18],[.066,9],[.070,27],[.074,14],[.078,21],[.082,6],[.086,16],[.090,12],[.094,24],[.098,19],
[.102,8],[.106,15],[.110,22],[.114,12],[.118,17],[.122,27],[.126,10],[.130,20],[.134,14],[.138,7],[.142,18],[.146,23],[.150,11],[.154,16],[.158,13],[.162,21],[.166,9],[.170,19],[.174,14],[.178,26],[.182,11],[.186,17],[.190,22],[.194,8],[.198,15],
[.202,19],[.206,12],[.210,25],[.214,16],[.218,10],[.222,14],[.226,20],[.230,7],[.234,17],[.238,23],[.242,13],[.246,18],[.250,10],[.254,21],[.258,15],[.262,8],[.266,13],[.270,24],[.274,18],[.278,14],[.282,9],[.286,16],[.290,21],[.294,11],[.298,19],
[.302,13],[.306,25],[.310,15],[.314,9],[.318,20],[.322,12],[.326,17],[.330,7],[.334,23],[.338,16],[.342,12],[.346,19],[.350,14],[.354,9],[.358,17],[.362,21],[.366,13],[.370,25],[.374,10],[.378,17],[.382,12],[.386,22],[.390,15],[.394,19],[.398,11],
[.402,17],[.406,24],[.410,13],[.414,8],[.418,16],[.422,20],[.426,12],[.430,15],[.434,22],[.438,10],[.442,18],[.446,14],[.450,24],[.454,9],[.458,17],[.462,12],[.466,19],[.470,15],[.474,26],[.478,8],[.482,16],[.486,12],[.490,21],[.494,14],[.498,18],
[.502,10],[.506,15],[.510,22],[.514,13],[.518,8],[.522,17],[.526,20],[.530,12],[.534,24],[.538,16],[.542,10],[.546,18],[.550,13],[.554,7],[.558,19],[.562,14],[.566,23],[.570,11],[.574,17],[.578,13],[.582,21],[.586,9],[.590,16],[.594,19],[.598,12],
[.602,22],[.606,9],[.610,16],[.614,12],[.618,25],[.622,15],[.626,19],[.630,8],[.634,14],[.638,21],[.642,11],[.646,26],[.650,16],[.654,13],[.658,9],[.662,23],[.666,17],[.670,14],[.674,28],[.678,12],[.682,18],[.686,7],[.690,16],[.694,22],[.698,13],
[.702,19],[.706,10],[.710,15],[.714,25],[.718,11],[.722,18],[.726,14],[.730,22],[.734,8],[.738,16],[.742,13],[.746,20],[.750,17],[.754,9],[.758,24],[.762,14],[.766,19],[.770,12],[.774,28],[.778,17],[.782,9],[.786,14],[.790,21],[.794,15],[.798,8],
[-.036,30],[-.026,52],[-.016,22],[-.006,48],[.004,33],[.014,55],[.024,45],[.034,40],[.044,25],[.054,50],[.058,17],[-.031,41],[-.001,29],[.029,18]
];

// ---------- drawing ----------
const fig = document.getElementById("fig");
const WATER = "blue", LAND = "green", ALPHA = 0.5;

function panel(o) {
  return Plot.plot({
    width: o.width, height: 337,
    marginTop: o.marginTop, marginBottom: o.marginBottom, marginLeft: o.marginLeft, marginRight: o.marginRight,
    style: {fontFamily: "DejaVu Sans", fontSize: "9.5px", background: "transparent", color: "black", overflow: "visible"},
    x: {domain: o.xDomain, ticks: ndviTicks, tickFormat: d3.format(".1f"), tickSize: 4, label: "NDVI",
        labelAnchor: "center", labelArrow: "none", labelOffset: 26},
    y: {domain: o.yDomain, ticks: o.yTicks, tickFormat: d3.format("d"), tickSize: 4, label: o.yLabel,
        labelAnchor: "center", labelArrow: "none", labelOffset: 40},
    marks: [
      Plot.dot(o.water, {x: d => d[0], y: d => d[1], r: 3.5, stroke: WATER, strokeOpacity: ALPHA, strokeWidth: 1, clip: true}),
      Plot.dot(o.land, {x: d => d[0], y: d => d[1], r: 3.5, stroke: LAND, strokeOpacity: ALPHA, strokeWidth: 1, clip: true}),
      Plot.frame({stroke: "black", strokeWidth: 1}),
      Plot.text([o.title], {text: d => d, frameAnchor: "top", dy: -12, fontSize: 10.8, fill: "black"}),
      Plot.text([o.tag], {text: d => d, frameAnchor: o.tagAnchor, textAnchor: o.tagTextAnchor, dx: o.tagDx, dy: 24,
        fontSize: 18, fontFamily: "Liberation Sans", fill: "black"})
    ]
  });
}

function place(el, left) {
  el.classList.add("panel");
  el.style.left = left + "px";
  fig.appendChild(el);
}

place(panel({width: 395, marginTop: 88, marginBottom: 33, marginLeft: 54, marginRight: 5,
  xDomain: [-0.404, 0.876], yDomain: [-8.6, 160.2], yTicks: l1Ticks,
  yLabel: "L1 Reflected Path SNR (V/V)", title: "NDVI v/s L1 SNR",
  water: waterL1, land: landL1, tag: "(a)", tagAnchor: "top-left", tagTextAnchor: "start", tagDx: 14}), 0);

place(panel({width: 400, marginTop: 88, marginBottom: 32, marginLeft: 62.7, marginRight: 3.7,
  xDomain: [-0.4023, 0.876], yDomain: [-7.4, 129.9], yTicks: l2Ticks,
  yLabel: "L2 Reflected Path SNR (V/V)", title: "NDVI v/s L2 SNR",
  water: waterL2, land: landL2, tag: "(b)", tagAnchor: "top-right", tagTextAnchor: "end", tagDx: -18}), 395);

// title (two lines)
const t1 = document.createElement("div");
t1.className = "title"; t1.textContent = titleLines[0];
t1.style.left = "0px"; t1.style.width = "819px"; t1.style.top = "9px";
fig.appendChild(t1);
const t2 = document.createElement("div");
t2.className = "title"; t2.textContent = titleLines[1];
t2.style.left = "0px"; t2.style.width = "759px"; t2.style.top = "29px";
fig.appendChild(t2);

// legends
function legend(left, top, width, height, markerX, textX) {
  const box = document.createElement("div");
  box.className = "legend";
  Object.assign(box.style, {left: left + "px", top: top + "px", width: width + "px", height: height + "px"});
  const colors = [WATER, LAND];
  seriesNames.forEach((name, i) => {
    const cy = 8.5 + i * 16.5;
    const svgNS = "http://www.w3.org/2000/svg";
    const s = document.createElementNS(svgNS, "svg");
    s.setAttribute("width", 10); s.setAttribute("height", 10);
    s.style.position = "absolute"; s.style.left = (markerX - left - 5) + "px"; s.style.top = (cy - 5) + "px";
    const c = document.createElementNS(svgNS, "circle");
    c.setAttribute("cx", 5); c.setAttribute("cy", 5); c.setAttribute("r", 3);
    c.setAttribute("fill", "none"); c.setAttribute("stroke", colors[i]); c.setAttribute("stroke-opacity", ALPHA);
    s.appendChild(c); box.appendChild(s);
    const t = document.createElement("div");
    t.className = "row"; t.textContent = name;
    t.style.left = (textX - left) + "px"; t.style.top = (cy - 6.5) + "px"; t.style.lineHeight = "12px";
    box.appendChild(t);
  });
  fig.appendChild(box);
}
legend(261, 92, 125, 34, 272.7, 292.7);
legend(462, 91, 121, 35, 475.7, 494.3);
</script>
</body>
</html>
